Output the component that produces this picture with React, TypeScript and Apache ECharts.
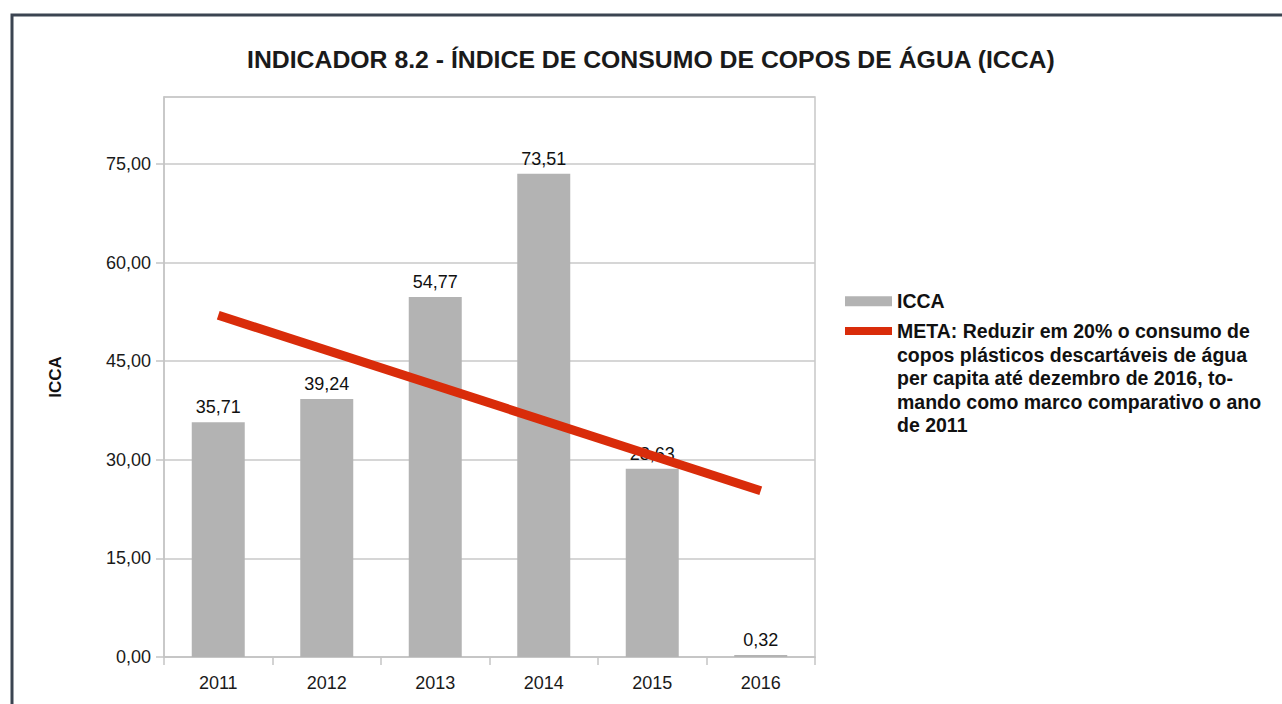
import React, { useEffect, useRef } from "react";
import * as echarts from "echarts";

const TITLE = "INDICADOR 8.2 - ÍNDICE DE CONSUMO DE COPOS DE ÁGUA (ICCA)";
const YEARS = ["2011", "2012", "2013", "2014", "2015", "2016"];
const ICCA_VALUES = [35.71, 39.24, 54.77, 73.51, 28.63, 0.32];
// Meta line: start (2011) and end (2016) points only
const META_VALUES: (number | null)[] = [52.0, null, null, null, null, 25.3];
const ICCA_NAME = "ICCA";
const META_NAME =
  "META: Reduzir em 20% o consumo de copos plásticos descartáveis de água per capita até dezembro de 2016, tomando como marco comparativo o ano de 2011";
const META_LINES = [
  "META: Reduzir em 20% o consumo de",
  "copos plásticos descartáveis de água",
  "per capita até dezembro de 2016, to-",
  "mando como marco comparativo o ano",
  "de 2011",
];
const Y_TICKS = [0, 15, 30, 45, 60, 75];

const fmt = (v: number) => v.toFixed(2).replace(".", ",");

export default function App() {
  const ref = useRef<HTMLDivElement>(null);
  useEffect(() => {
    if (!ref.current) return;
    const chart = echarts.init(ref.current, undefined, { renderer: "svg" });
    const FONT = "'Liberation Sans', Arial, sans-serif";
    const RED = "#d92c0a";
    const GRAY = "#b3b3b3";
    const LINE_H = 23.5;
    const nExtra = META_LINES.length - 1;
    // blank lines before the text so the first line sits level with the swatch
    const metaText = "\n".repeat(nExtra) + META_LINES.join("\n");
    const metaTop = 331 - (nExtra + 0.5) * LINE_H;
    chart.setOption({
      animation: false,
      backgroundColor: "#ffffff",
      textStyle: { fontFamily: FONT },
      title: {
        text: TITLE,
        left: 247,
        top: 47,
        padding: 0,
        textStyle: { fontFamily: FONT, fontSize: 24.8, fontWeight: "bold", color: "#1a1a1a" },
      },
      graphic: [
        {
          type: "rect",
          shape: { x: 12, y: 15, width: 1400, height: 800 },
          style: { fill: "none", stroke: "#3b4451", lineWidth: 3 },
          silent: true,
        },
      ],
      legend: [
        {
          data: [{ name: ICCA_NAME, icon: "rect" }],
          left: 845,
          top: 289.5,
          padding: 0,
          itemWidth: 47,
          itemHeight: 10,
          itemGap: 4,
          textStyle: { fontFamily: FONT, fontSize: 19.5, fontWeight: "bold", color: "#111", lineHeight: LINE_H },
        },
        {
          data: [{ name: META_NAME, icon: "rect" }],
          left: 845,
          top: metaTop,
          padding: 0,
          itemWidth: 47,
          itemHeight: 8,
          formatter: (n: string) => (n === META_NAME ? metaText : n),
          textStyle: {
            fontFamily: FONT,
            fontSize: 19.5,
            fontWeight: "bold",
            color: "#111",
            lineHeight: LINE_H,
          },
        },
      ],
      grid: {
        left: 164,
        top: 97,
        right: 1282 - 815,
        bottom: 704 - 657,
        show: true,
        borderColor: "#c8c8c8",
        borderWidth: 1.5,
        backgroundColor: "transparent",
      },
      xAxis: {
        type: "category",
        data: YEARS,
        boundaryGap: true,
        axisLine: { lineStyle: { color: "#c4c4c4", width: 1.5 } },
        axisTick: { show: true, length: 8, alignWithLabel: false, lineStyle: { color: "#c4c4c4", width: 1.5 } },
        axisLabel: { margin: 17, fontSize: 18, color: "#1a1a1a", fontFamily: FONT },
        splitLine: { show: false },
      },
      yAxis: {
        type: "value",
        min: 0,
        max: 85.2,
        interval: 15,
        name: "ICCA",
        nameLocation: "middle",
        nameGap: 100,
        nameRotate: 90,
        nameTextStyle: { fontFamily: FONT, fontSize: 17, fontWeight: "bold", color: "#111" },
        axisLine: { show: true, lineStyle: { color: "#c4c4c4", width: 1.5 } },
        axisTick: { show: true, length: 8, lineStyle: { color: "#c4c4c4", width: 1.5 } },
        axisLabel: {
          margin: 13,
          fontSize: 18,
          color: "#1a1a1a",
          fontFamily: FONT,
          showMaxLabel: false,
          formatter: (v: number) => (Y_TICKS.indexOf(Math.round(v * 100) / 100) >= 0 ? fmt(v) : ""),
        },
        splitLine: { show: true, lineStyle: { color: "#c8c8c8", width: 1.5 } },
      },
      series: [
        {
          name: ICCA_NAME,
          type: "bar",
          data: ICCA_VALUES,
          barWidth: 53,
          itemStyle: { color: GRAY },
          label: {
            show: true,
            position: "top",
            distance: 6,
            fontSize: 18,
            color: "#111",
            fontFamily: FONT,
            formatter: (p: any) => fmt(p.value),
          },
          z: 2,
        },
        {
          name: META_NAME,
          type: "line",
          data: META_VALUES,
          connectNulls: true,
          symbol: "none",
          showSymbol: false,
          itemStyle: { color: RED },
          lineStyle: { color: RED, width: 9, cap: "butt" },
          z: 5,
        },
      ],
    });
    return () => chart.dispose();
  }, []);
  return (
    <div
      ref={ref}
      style={{ position: "absolute", left: 0, top: 0, width: 1282, height: 704 }}
    />
  );
}
